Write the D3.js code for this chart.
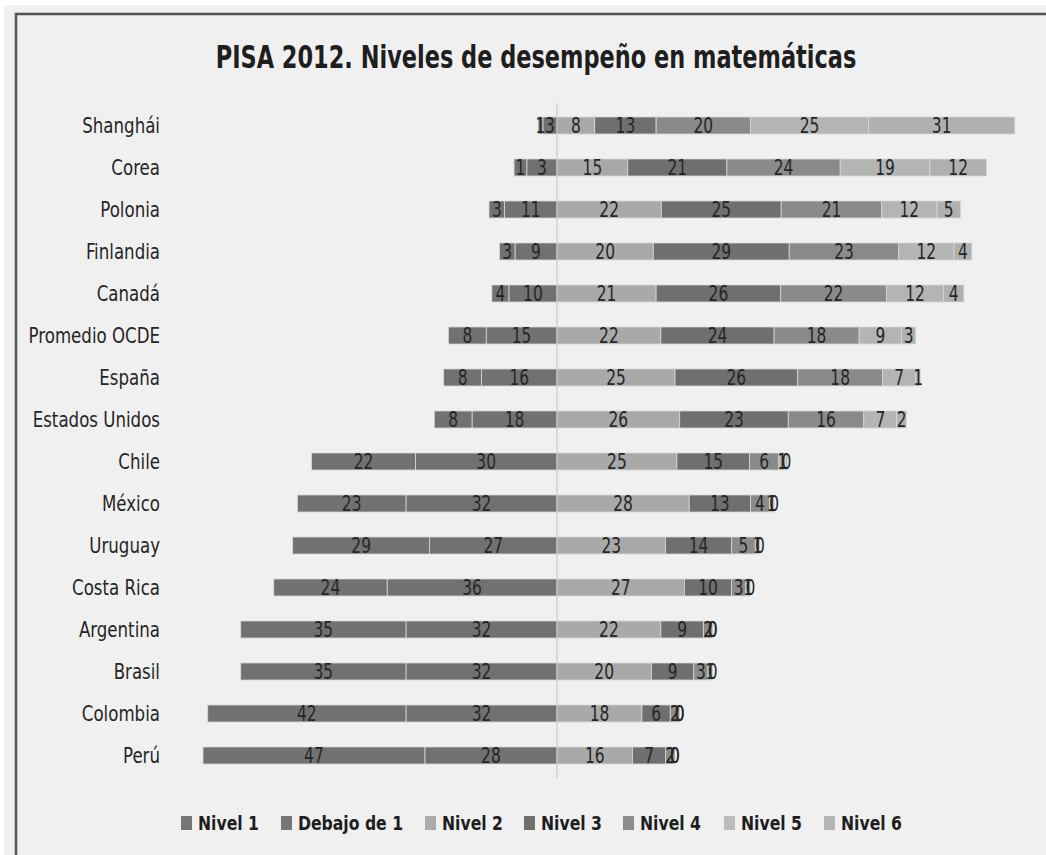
<!DOCTYPE html>
<html><head><meta charset="utf-8">
<script src="https://cdn.jsdelivr.net/npm/d3@7/dist/d3.min.js"></script>
<style>
html,body{margin:0;padding:0;background:#fff;}
svg{display:block;}
text{font-family:"Liberation Sans Narrow","DejaVu Sans Condensed","Arial Narrow",sans-serif;}
</style></head>
<body>
<svg id="chart" width="1046" height="855"></svg>
<script>
const categories = ["Shanghái","Corea","Polonia","Finlandia","Canadá","Promedio OCDE","España","Estados Unidos","Chile","México","Uruguay","Costa Rica","Argentina","Brasil","Colombia","Perú"];
const seriesNames = ["Nivel 1","Debajo de 1","Nivel 2","Nivel 3","Nivel 4","Nivel 5","Nivel 6"];
// bar lengths (%) as drawn
const debajo1 = [1,2.7,3.3,3.3,3.6,8,8,8,22,23,29,24,35,35,42,47];
const nivel1  = [3,6.4,11.1,8.9,10.2,15,16,18,30,32,27,36,32,32,32,28];
const nivel2  = [8,15,22.1,20.4,21.0,22,25,26,25.4,28,23,27,22,20,18,16];
const nivel3  = [13,21,25.4,28.8,26.4,24,26,23,15.4,13,14,10,9,9,6,7];
const nivel4  = [20,24,21.3,23.2,22.4,18,18,16,6.2,4,5,3,2,3,2,2];
const nivel5  = [25,19,11.7,11.7,12.1,9,7,7,1.4,1,1,1,0,1,0,0];
const nivel6  = [31,12,5.0,3.8,4.3,3,1,2,0.4,0,0,0,0,0,0,0];
// data labels printed on the left segments (Corea's labels differ from its bar lengths in the source)
const debajo1Labels = [1,1,3,3,4,8,8,8,22,23,29,24,35,35,42,47];
const nivel1Labels  = [3,3,11,9,10,15,16,18,30,32,27,36,32,32,32,28];
const title = "PISA 2012. Niveles de desempeño en matemáticas";

const barColors = {"Nivel 1":"#717171","Debajo de 1":"#717171","Nivel 2":"#a9a9a9","Nivel 3":"#6f6f6f","Nivel 4":"#8a8a8a","Nivel 5":"#b4b4b4","Nivel 6":"#b0b0b0"};
const legendColors = {"Nivel 1":"#767676","Debajo de 1":"#767676","Nivel 2":"#ababab","Nivel 3":"#6f6f6f","Nivel 4":"#8c8c8c","Nivel 5":"#bcbcbc","Nivel 6":"#b5b5b5"};

const svg = d3.select("#chart");
svg.append("rect").attr("x",4).attr("y",5).attr("width",1042).attr("height",850).attr("fill","#f0f0f0");
svg.append("path").attr("d","M16,855 V14 H1046").attr("fill","none").attr("stroke","#9a9a9a").attr("stroke-width",3);
svg.append("path").attr("d","M16,855 V14 H1046").attr("fill","none").attr("stroke","#3c3c3c").attr("stroke-width",1.4);

function tx(xv,yv,sx){ return `translate(${xv},${yv}) scale(${sx},1)`; }

svg.append("text").attr("transform",tx(536,68,0.78)).attr("text-anchor","middle")
  .attr("font-size",32).attr("font-weight","bold").attr("fill","#1e1e1e").text(title);

const x = d3.scaleLinear().domain([-80,100]).range([557-80*4.72, 557+100*4.72]);
const y = d3.scaleBand().domain(categories).range([104.5,776.5]).paddingInner(25/42).paddingOuter(25/84);

svg.append("line").attr("x1",x(0)).attr("x2",x(0)).attr("y1",103).attr("y2",778).attr("stroke","#d9d9d9").attr("stroke-width",2);

const segs = [];
categories.forEach((c,i)=>{
  let a = 0;
  [["Nivel 1",nivel1[i],nivel1Labels[i]],["Debajo de 1",debajo1[i],debajo1Labels[i]]].forEach(([s,v,l])=>{ segs.push({c,s,v,l,x0:a-v,x1:a}); a-=v; });
  let b = 0;
  [["Nivel 2",nivel2[i]],["Nivel 3",nivel3[i]],["Nivel 4",nivel4[i]],["Nivel 5",nivel5[i]],["Nivel 6",nivel6[i]]].forEach(([s,v])=>{ segs.push({c,s,v,l:Math.round(v),x0:b,x1:b+v}); b+=v; });
});

const g = svg.append("g");
g.selectAll("rect").data(segs.filter(d=>d.v>0)).join("rect")
  .attr("x",d=>x(d.x0)).attr("width",d=>x(d.x1)-x(d.x0))
  .attr("y",d=>y(d.c)).attr("height",y.bandwidth())
  .attr("fill",d=>barColors[d.s]).attr("stroke","#d8d8d8").attr("stroke-width",0.8);

g.selectAll("text").data(segs).join("text")
  .attr("transform",d=>tx((x(d.x0)+x(d.x1))/2, y(d.c)+y.bandwidth()/2, 0.8))
  .attr("dy","0.36em").attr("text-anchor","middle").attr("font-size",21.5).attr("fill","#262626")
  .text(d=>d.l);

svg.append("g").selectAll("text").data(categories).join("text")
  .attr("transform",d=>tx(160, y(d)+y.bandwidth()/2, 0.86)).attr("dy","0.36em")
  .attr("text-anchor","end").attr("font-size",21.5).attr("fill","#262626").text(d=>d);

const legX = [181,281,425,524,623,724,824];
const lg = svg.append("g").selectAll("g").data(seriesNames).join("g")
  .attr("transform",(d,i)=>`translate(${legX[i]},823)`);
lg.append("rect").attr("x",0).attr("y",-7).attr("width",11).attr("height",14).attr("fill",d=>legendColors[d]);
lg.append("text").attr("transform",tx(17,0,0.87)).attr("dy","0.36em").attr("font-size",20).attr("font-weight","bold").attr("fill","#1e1e1e").text(d=>d);
</script>
</body></html>
